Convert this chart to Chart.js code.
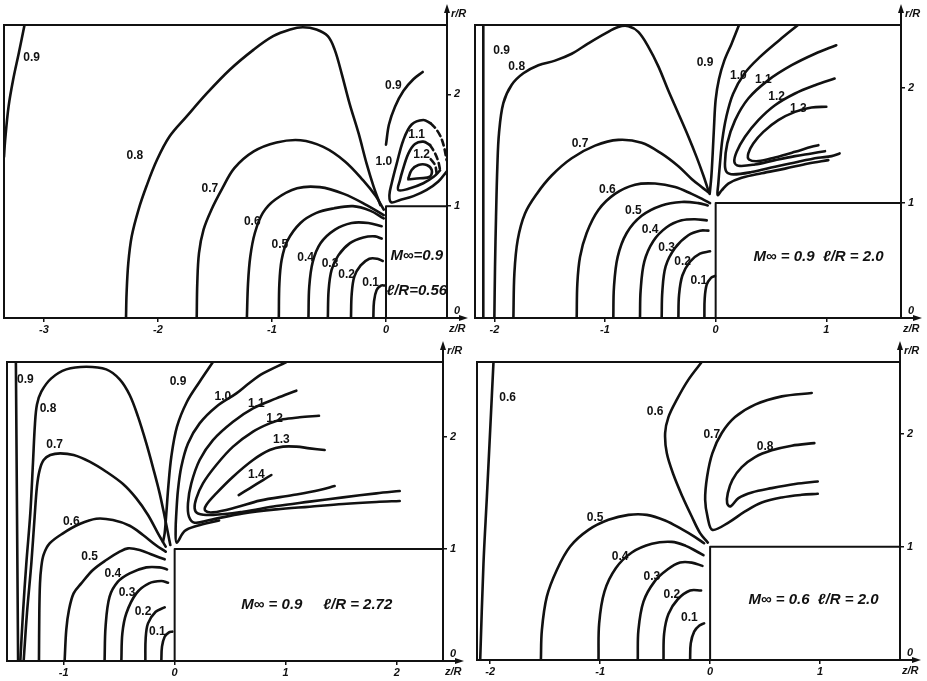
<!DOCTYPE html>
<html>
<head>
<meta charset="utf-8">
<script src="https://cdn.jsdelivr.net/npm/chart.js@4.4.0/dist/chart.umd.min.js"></script>
<style>
  html, body { margin: 0; padding: 0; background: #fff; }
  body { width: 927px; height: 681px; position: relative; overflow: hidden; }
  canvas { position: absolute; }
</style>
</head>
<body>
<canvas id="tl" width="469" height="337" style="left:2px;top:3px"></canvas>
<canvas id="tr" width="452" height="337" style="left:473px;top:3px"></canvas>
<canvas id="bl" width="462" height="343" style="left:5px;top:340px"></canvas>
<canvas id="br" width="449" height="342" style="left:475px;top:340px"></canvas>
<script>
// Iso-Mach lines around a cylindrical body, coordinates [z/R, r/R]

// ---------- Panel A: M∞ = 0.9, ℓ/R = 0.56 ----------
const aXTicks = [-3, -2, -1, 0];
const aYTicks = [0, 1, 2];
const a_09L = [[-3.17,2.62],[-3.22,2.37],[-3.27,2.13],[-3.31,1.89],[-3.34,1.59],[-3.35,1.44]];
const a_08 = [[-2.28,0],[-2.275,0.22],[-2.26,0.49],[-2.23,0.73],[-2.17,0.97],[-2.10,1.18],[-2.01,1.41],[-1.90,1.62],[-1.75,1.80],[-1.57,2.01],[-1.37,2.22],[-1.16,2.40],[-0.99,2.52],[-0.84,2.58],[-0.73,2.60],[-0.61,2.58],[-0.51,2.52],[-0.45,2.40],[-0.39,2.19],[-0.32,1.92],[-0.24,1.65],[-0.17,1.38],[-0.11,1.18],[-0.05,1.01]];
const a_07 = [[-1.66,0],[-1.655,0.31],[-1.64,0.58],[-1.60,0.79],[-1.53,0.97],[-1.44,1.15],[-1.33,1.34],[-1.16,1.49],[-0.96,1.57],[-0.75,1.59],[-0.55,1.53],[-0.36,1.40],[-0.20,1.23],[-0.09,1.09],[-0.02,0.97]];
const a_06 = [[-1.22,0],[-1.21,0.31],[-1.19,0.55],[-1.15,0.76],[-1.08,0.94],[-0.97,1.06],[-0.78,1.16],[-0.58,1.17],[-0.37,1.11],[-0.17,1.01],[-0.02,0.92]];
const a_05 = [[-0.94,0],[-0.935,0.31],[-0.915,0.52],[-0.865,0.69],[-0.75,0.85],[-0.61,0.94],[-0.46,0.98],[-0.29,1.0],[-0.14,0.96],[-0.02,0.89]];
const a_04 = [[-0.68,0],[-0.673,0.28],[-0.643,0.50],[-0.573,0.67],[-0.447,0.79],[-0.301,0.85],[-0.155,0.85],[-0.038,0.82]];
const a_03 = [[-0.51,0],[-0.503,0.25],[-0.477,0.43],[-0.418,0.56],[-0.316,0.67],[-0.199,0.72],[-0.096,0.73],[-0.038,0.71]];
const a_02 = [[-0.307,0],[-0.301,0.21],[-0.278,0.37],[-0.222,0.47],[-0.146,0.53],[-0.076,0.53],[-0.029,0.51]];
const a_01 = [[-0.111,0],[-0.105,0.15],[-0.082,0.25],[-0.044,0.29],[-0.009,0.29]];
const a_09R = [[0.0,1.55],[0.026,1.73],[0.079,1.89],[0.152,2.03],[0.24,2.135],[0.322,2.20]];
const a_10 = [[0.532,1.31],[0.459,1.22],[0.357,1.145],[0.24,1.09],[0.123,1.055],[0.045,1.035],[0.03,1.10],[0.05,1.205],[0.094,1.38],[0.152,1.59],[0.225,1.73],[0.327,1.77],[0.392,1.74]];
const a_10dash = [[0.392,1.74],[0.439,1.69],[0.48,1.62],[0.509,1.53],[0.532,1.41]];
const a_11 = [[0.474,1.32],[0.415,1.26],[0.327,1.205],[0.211,1.16],[0.108,1.145],[0.123,1.234],[0.143,1.31],[0.196,1.47],[0.254,1.556],[0.327,1.577],[0.386,1.547]];
const a_11dash = [[0.386,1.547],[0.43,1.473],[0.459,1.398],[0.474,1.324]];
const a_12 = [[0.196,1.249],[0.225,1.324],[0.284,1.368],[0.357,1.368],[0.401,1.324],[0.386,1.264],[0.298,1.249],[0.196,1.24]];
const a_12dash = [[0.392,1.42],[0.43,1.368],[0.444,1.294]];
const aBody = [[0,0],[0,1],[0.535,1]];
const aLabelText = ['0.9','0.8','0.7','0.6','0.5','0.4','0.3','0.2','0.1','0.9','1.0','1.1','1.2'];
const aLabelAt = [[-3.108,2.332],[-2.202,1.449],[-1.544,1.160],[-1.173,0.862],[-0.930,0.653],[-0.705,0.543],[-0.491,0.489],[-0.345,0.385],[-0.135,0.316],[0.064,2.075],[-0.018,1.398],[0.269,1.637],[0.313,1.458]];

// ---------- Panel B: M∞ = 0.9, ℓ/R = 2.0 ----------
const bXTicks = [-2, -1, 0, 1];
const bYTicks = [0, 1, 2];
const b_09L = [[-2.10,0],[-2.10,2.55]];
const b_08 = [[-2.0,0],[-1.994,0.45],[-1.985,0.88],[-1.973,1.32],[-1.958,1.61],[-1.919,1.87],[-1.843,2.03],[-1.738,2.13],[-1.602,2.20],[-1.452,2.24],[-1.301,2.30],[-1.151,2.39],[-1.0,2.475],[-0.88,2.533],[-0.789,2.54],[-0.699,2.49],[-0.608,2.36],[-0.518,2.19],[-0.428,1.98],[-0.337,1.78],[-0.247,1.58],[-0.172,1.40],[-0.111,1.24],[-0.066,1.11]];
const b_07 = [[-1.828,0],[-1.819,0.39],[-1.789,0.68],[-1.723,0.91],[-1.617,1.08],[-1.482,1.24],[-1.301,1.39],[-1.09,1.50],[-0.88,1.55],[-0.669,1.525],[-0.488,1.43],[-0.337,1.32],[-0.217,1.21],[-0.127,1.14],[-0.06,1.09]];
const b_06 = [[-1.256,0],[-1.25,0.30],[-1.226,0.53],[-1.166,0.74],[-1.06,0.94],[-0.91,1.08],[-0.729,1.16],[-0.548,1.17],[-0.367,1.14],[-0.217,1.08],[-0.111,1.03],[-0.051,1.0]];
const b_05 = [[-0.925,0],[-0.919,0.27],[-0.886,0.53],[-0.804,0.74],[-0.669,0.89],[-0.488,0.98],[-0.307,1.01],[-0.157,1.0],[-0.072,0.98]];
const b_04 = [[-0.684,0],[-0.678,0.24],[-0.645,0.49],[-0.563,0.67],[-0.443,0.79],[-0.307,0.85],[-0.187,0.86],[-0.081,0.85]];
const b_03 = [[-0.488,0],[-0.482,0.23],[-0.452,0.45],[-0.367,0.61],[-0.247,0.72],[-0.142,0.76],[-0.066,0.76]];
const b_02 = [[-0.337,0],[-0.331,0.20],[-0.301,0.37],[-0.232,0.49],[-0.142,0.56],[-0.051,0.58]];
const b_01 = [[-0.102,0],[-0.099,0.17],[-0.081,0.29],[-0.042,0.35],[-0.006,0.365]];
const b_09R = [[0.211,2.55],[0.145,2.39],[0.078,2.24],[0.03,2.08],[0,1.90],[-0.015,1.66],[-0.027,1.43],[-0.039,1.23],[-0.054,1.08]];
const b_10 = [[0.744,2.55],[0.578,2.42],[0.398,2.27],[0.262,2.13],[0.157,1.95],[0.096,1.75],[0.06,1.55],[0.039,1.345],[0.024,1.17],[0.018,1.07],[0.054,1.11],[0.114,1.17],[0.235,1.22],[0.416,1.26],[0.627,1.30],[0.837,1.345],[1.018,1.374]];
const b_11 = [[1.09,2.374],[0.898,2.30],[0.687,2.20],[0.476,2.07],[0.295,1.91],[0.175,1.72],[0.105,1.52],[0.084,1.345],[0.099,1.27],[0.16,1.25],[0.325,1.27],[0.536,1.316],[0.747,1.36],[0.928,1.394],[1.048,1.409],[1.12,1.432]];
const b_12 = [[1.075,2.084],[0.898,2.026],[0.717,1.954],[0.536,1.852],[0.386,1.722],[0.265,1.577],[0.19,1.446],[0.169,1.359],[0.205,1.325],[0.355,1.336],[0.536,1.374],[0.717,1.409],[0.867,1.432],[0.988,1.452]];
const b_13 = [[1.0,1.838],[0.867,1.832],[0.717,1.794],[0.566,1.722],[0.431,1.62],[0.34,1.519],[0.295,1.432],[0.301,1.38],[0.386,1.365],[0.536,1.397],[0.717,1.446],[0.867,1.49],[0.928,1.504]];
const bBody = [[0,0],[0,1],[1.675,1]];
const bLabelText = ['0.9','0.8','0.7','0.6','0.5','0.4','0.3','0.2','0.1','0.9','1.0','1.1','1.2','1.3'];
const bLabelAt = [[-1.934,2.330],[-1.798,2.186],[-1.226,1.513],[-0.979,1.119],[-0.744,0.933],[-0.593,0.765],[-0.443,0.614],[-0.298,0.490],[-0.151,0.325],[-0.096,2.220],[0.205,2.113],[0.431,2.070],[0.551,1.925],[0.747,1.823]];

// ---------- Panel C: M∞ = 0.9, ℓ/R = 2.72 ----------
const cXTicks = [-1, 0, 1, 2];
const cYTicks = [0, 1, 2];
const c_09L = [[-1.43,2.67],[-1.41,0]];
const c_08 = [[-1.39,0],[-1.366,0.43],[-1.336,0.87],[-1.30,1.32],[-1.276,1.77],[-1.258,2.12],[-1.24,2.29],[-1.201,2.405],[-1.111,2.524],[-0.976,2.604],[-0.796,2.628],[-0.616,2.604],[-0.495,2.515],[-0.405,2.375],[-0.33,2.182],[-0.255,1.943],[-0.189,1.705],[-0.135,1.497],[-0.09,1.289],[-0.06,1.14],[-0.039,1.036]];
const c_07 = [[-1.36,0],[-1.33,0.43],[-1.291,0.87],[-1.261,1.29],[-1.24,1.56],[-1.216,1.705],[-1.18,1.795],[-1.12,1.839],[-1.03,1.854],[-0.91,1.839],[-0.766,1.78],[-0.616,1.69],[-0.465,1.58],[-0.345,1.452],[-0.24,1.304],[-0.15,1.14],[-0.081,1.021]];
const c_06 = [[-1.222,0],[-1.219,0.43],[-1.213,0.69],[-1.201,0.84],[-1.18,0.95],[-1.126,1.05],[-1.006,1.14],[-0.856,1.223],[-0.706,1.271],[-0.556,1.259],[-0.405,1.208],[-0.285,1.125],[-0.171,1.036],[-0.081,0.976]];
const c_05 = [[-0.991,0],[-0.976,0.28],[-0.952,0.455],[-0.91,0.604],[-0.841,0.693],[-0.736,0.813],[-0.616,0.902],[-0.495,0.976],[-0.42,1.006],[-0.315,0.991],[-0.195,0.946],[-0.09,0.908]];
const c_04 = [[-0.631,0],[-0.622,0.31],[-0.586,0.574],[-0.511,0.708],[-0.405,0.783],[-0.255,0.836],[-0.135,0.836],[-0.069,0.818]];
const c_03 = [[-0.48,0],[-0.471,0.247],[-0.435,0.426],[-0.345,0.604],[-0.231,0.693],[-0.12,0.714],[-0.06,0.699]];
const c_02 = [[-0.264,0],[-0.261,0.202],[-0.24,0.336],[-0.171,0.44],[-0.09,0.479]];
const c_01 = [[-0.12,0],[-0.114,0.128],[-0.09,0.217],[-0.051,0.256],[-0.021,0.262]];
const c_09R = [[0.345,2.67],[0.225,2.494],[0.111,2.315],[0.021,2.092],[-0.03,1.824],[-0.057,1.557],[-0.075,1.318],[-0.09,1.14],[-0.105,1.065]];
const c_10 = [[1.006,2.67],[0.796,2.568],[0.676,2.485],[0.556,2.39],[0.375,2.271],[0.225,2.122],[0.12,1.943],[0.06,1.735],[0.03,1.527],[0.015,1.318],[0.009,1.17],[0.018,1.057],[0.09,1.16],[0.195,1.205],[0.40,1.255]];
const c_11 = [[1.096,2.414],[0.916,2.345],[0.706,2.256],[0.526,2.137],[0.345,1.973],[0.225,1.795],[0.15,1.586],[0.12,1.408],[0.129,1.289],[0.18,1.235],[0.315,1.259],[0.616,1.318],[0.916,1.354],[1.216,1.378],[1.517,1.402],[1.817,1.42],[2.027,1.429]];
const c_12 = [[1.30,2.19],[1.126,2.176],[0.976,2.158],[0.856,2.122],[0.706,2.048],[0.526,1.914],[0.375,1.75],[0.255,1.586],[0.195,1.452],[0.18,1.363],[0.21,1.318],[0.345,1.304],[0.616,1.333],[0.916,1.384],[1.216,1.423],[1.517,1.461],[1.817,1.497],[2.027,1.518]];
const c_13 = [[1.351,1.884],[1.216,1.899],[1.096,1.914],[0.976,1.914],[0.856,1.884],[0.706,1.795],[0.526,1.646],[0.375,1.497],[0.285,1.393],[0.276,1.342],[0.345,1.327],[0.556,1.372],[0.766,1.432],[1.066,1.482],[1.306,1.527],[1.441,1.563]];
const c_14 = [[0.577,1.482],[0.676,1.542],[0.796,1.616],[0.871,1.661]];
const cBody = [[0,0],[0,1],[2.417,1]];
const cLabelText = ['0.9','0.8','0.7','0.6','0.5','0.4','0.3','0.2','0.1','0.9','1.0','1.1','1.2','1.3','1.4'];
const cLabelAt = [[-1.345,2.509],[-1.141,2.256],[-1.081,1.929],[-0.931,1.244],[-0.766,0.932],[-0.556,0.783],[-0.429,0.610],[-0.285,0.440],[-0.156,0.262],[0.030,2.494],[0.435,2.360],[0.736,2.301],[0.901,2.167],[0.961,1.973],[0.736,1.661]];

// ---------- Panel D: M∞ = 0.6, ℓ/R = 2.0 ----------
const dXTicks = [-2, -1, 0, 1];
const dYTicks = [0, 1, 2];
const d_06L = [[-1.97,2.634],[-2.0,2.035],[-2.03,1.445],[-2.061,0.855],[-2.091,0]];
const d_06R = [[-0.076,2.634],[-0.197,2.478],[-0.303,2.301],[-0.379,2.147],[-0.409,2.006],[-0.394,1.829],[-0.333,1.637],[-0.252,1.445],[-0.167,1.268],[-0.091,1.121],[-0.021,1.038]];
const d_07 = [[0.924,2.36],[0.652,2.33],[0.409,2.257],[0.227,2.147],[0.106,2.006],[0.021,1.829],[-0.027,1.622],[-0.045,1.416],[-0.021,1.254],[0.021,1.15],[0.167,1.215],[0.318,1.313],[0.47,1.392],[0.652,1.437],[0.833,1.46],[0.979,1.469]];
const d_08 = [[0.948,1.917],[0.742,1.894],[0.561,1.853],[0.409,1.794],[0.288,1.705],[0.203,1.593],[0.161,1.475],[0.155,1.386],[0.185,1.357],[0.258,1.431],[0.379,1.481],[0.561,1.519],[0.773,1.555],[0.979,1.578]];
const d_05 = [[-1.539,0],[-1.53,0.265],[-1.485,0.56],[-1.394,0.796],[-1.273,1.003],[-1.106,1.15],[-0.924,1.239],[-0.742,1.283],[-0.576,1.283],[-0.409,1.233],[-0.258,1.156],[-0.136,1.086],[-0.055,1.032]];
const d_04 = [[-1.015,0],[-1.009,0.324],[-0.961,0.605],[-0.858,0.811],[-0.712,0.95],[-0.53,1.027],[-0.348,1.044],[-0.221,1.009],[-0.121,0.959],[-0.061,0.926]];
const d_03 = [[-0.658,0],[-0.652,0.265],[-0.606,0.516],[-0.506,0.693],[-0.385,0.802],[-0.273,0.861],[-0.167,0.861],[-0.07,0.832]];
const d_02 = [[-0.424,0],[-0.418,0.236],[-0.379,0.407],[-0.294,0.537],[-0.182,0.614],[-0.082,0.614]];
const d_01 = [[-0.182,0],[-0.176,0.147],[-0.145,0.251],[-0.097,0.304],[-0.055,0.324]];
const dBody = [[0,0],[0,1],[1.727,1]];
const dLabelText = ['0.6','0.6','0.7','0.8','0.5','0.4','0.3','0.2','0.1'];
const dLabelAt = [[-1.842,2.316],[-0.5,2.198],[0.015,1.991],[0.5,1.888],[-1.045,1.254],[-0.818,0.914],[-0.530,0.737],[-0.348,0.575],[-0.188,0.378]];

// ---------- drawing ----------
const INK = '#111';
const LABEL_FONT = 'bold 12px "Liberation Sans", Arial, sans-serif';
const NOTE_FONT = 'italic bold 15px "Liberation Sans", Arial, sans-serif';

function line(pts, dashed, straight) {
  return {
    data: pts.map(([x, y]) => ({ x, y })),
    showLine: true,
    borderColor: INK,
    borderWidth: straight ? 2 : 2.6,
    borderDash: dashed ? [6, 4] : [],
    borderCapStyle: 'round',
    borderJoinStyle: 'round',
    pointRadius: 0,
    tension: straight ? 0 : 0.35,
    fill: false
  };
}

const panelDecor = {
  id: 'panelDecor',
  beforeDatasetsDraw(chart) {
    const { ctx, chartArea: a } = chart;
    ctx.save();
    ctx.strokeStyle = INK;
    ctx.fillStyle = INK;
    ctx.lineWidth = 2;
    ctx.strokeRect(a.left, a.top, a.right - a.left, a.bottom - a.top);
    ctx.beginPath();
    ctx.moveTo(a.right, a.top); ctx.lineTo(a.right, a.top - 14);
    ctx.moveTo(a.right, a.bottom); ctx.lineTo(a.right + 14, a.bottom);
    ctx.stroke();
    ctx.beginPath();
    ctx.moveTo(a.right, a.top - 21); ctx.lineTo(a.right - 3, a.top - 12); ctx.lineTo(a.right + 3, a.top - 12);
    ctx.closePath(); ctx.fill();
    ctx.beginPath();
    ctx.moveTo(a.right + 21, a.bottom); ctx.lineTo(a.right + 12, a.bottom - 3); ctx.lineTo(a.right + 12, a.bottom + 3);
    ctx.closePath(); ctx.fill();
    ctx.font = 'italic bold 11px "Liberation Sans", Arial, sans-serif';
    ctx.textAlign = 'left';
    ctx.textBaseline = 'middle';
    ctx.fillText('r/R', a.right + 4, a.top - 11);
    ctx.fillText('z/R', a.right + 2, a.bottom + 11);
    ctx.restore();
  },
  afterDatasetsDraw(chart, args, opts) {
    const { ctx } = chart;
    const xs = chart.scales.x, ys = chart.scales.y;
    ctx.save();
    ctx.fillStyle = INK;
    ctx.textAlign = 'center';
    ctx.textBaseline = 'middle';
    ctx.font = LABEL_FONT;
    opts.texts.forEach((t, i) => {
      const [z, r] = opts.at[i];
      ctx.fillText(t, xs.getPixelForValue(z), ys.getPixelForValue(r));
    });
    ctx.font = NOTE_FONT;
    opts.notes.forEach(n => {
      ctx.fillText(n.text, xs.getPixelForValue(n.at[0]), ys.getPixelForValue(n.at[1]));
    });
    ctx.restore();
  }
};

function axis(min, max, ticks, position, size) {
  const horizontal = position === 'bottom';
  return {
    type: 'linear',
    position,
    min, max,
    grid: { display: true, drawOnChartArea: false, drawTicks: true, tickLength: 4, color: INK, lineWidth: 1.5 },
    border: { display: false },
    ticks: {
      color: INK,
      padding: horizontal ? 1 : 3,
      font: { family: '"Liberation Sans", Arial, sans-serif', size: 11, weight: 'bold', style: 'italic' },
      // the origin label on the r axis sits just above the z axis line
      callback: v => (!horizontal && v === 0) ? ['0', ''] : String(v),
      maxRotation: 0,
      autoSkip: false
    },
    afterBuildTicks: s => { s.ticks = ticks.map(v => ({ value: v })); },
    afterFit: s => { if (horizontal) s.height = size; else s.width = size; }
  };
}

function panel(id, xMin, xMax, yMax, xTicks, yTicks, curves, body, texts, at, notes) {
  const datasets = curves.map(c => line(c.pts, c.dashed, false));
  datasets.push(line(body, false, true));
  new Chart(document.getElementById(id), {
    type: 'scatter',
    data: { datasets },
    options: {
      responsive: false,
      animation: false,
      devicePixelRatio: 1,
      layout: { padding: { left: 2, top: 22, right: 0, bottom: 0 } },
      scales: {
        x: axis(xMin, xMax, xTicks, 'bottom', 22),
        y: axis(0, yMax, yTicks, 'right', 24)
      },
      plugins: {
        legend: { display: false },
        tooltip: { enabled: false },
        panelDecor: { texts, at, notes }
      }
    },
    plugins: [panelDecor]
  });
}

const solid = p => ({ pts: p, dashed: false });
const dashed = p => ({ pts: p, dashed: true });

panel('tl', -3.35, 0.535, 2.62, aXTicks, aYTicks,
  [a_09L, a_08, a_07, a_06, a_05, a_04, a_03, a_02, a_01, a_09R, a_10, a_11, a_12].map(solid)
    .concat([a_10dash, a_11dash, a_12dash].map(dashed)),
  aBody, aLabelText, aLabelAt,
  [{ text: 'M∞=0.9', at: [0.27, 0.56] }, { text: 'ℓ/R=0.56', at: [0.27, 0.24] }]);

panel('tr', -2.175, 1.675, 2.55, bXTicks, bYTicks,
  [b_09L, b_08, b_07, b_06, b_05, b_04, b_03, b_02, b_01, b_09R, b_10, b_11, b_12, b_13].map(solid),
  bBody, bLabelText, bLabelAt,
  [{ text: 'M∞ = 0.9  ℓ/R = 2.0', at: [0.93, 0.53] }]);

panel('bl', -1.51, 2.417, 2.67, cXTicks, cYTicks,
  [c_09L, c_08, c_07, c_06, c_05, c_04, c_03, c_02, c_01, c_09R, c_10, c_11, c_12, c_13, c_14].map(solid),
  cBody, cLabelText, cLabelAt,
  [{ text: 'M∞ = 0.9     ℓ/R = 2.72', at: [1.28, 0.5] }]);

panel('br', -2.12, 1.727, 2.634, dXTicks, dYTicks,
  [d_06L, d_06R, d_07, d_08, d_05, d_04, d_03, d_02, d_01].map(solid),
  dBody, dLabelText, dLabelAt,
  [{ text: 'M∞ = 0.6  ℓ/R = 2.0', at: [0.94, 0.53] }]);
</script>
</body>
</html>
